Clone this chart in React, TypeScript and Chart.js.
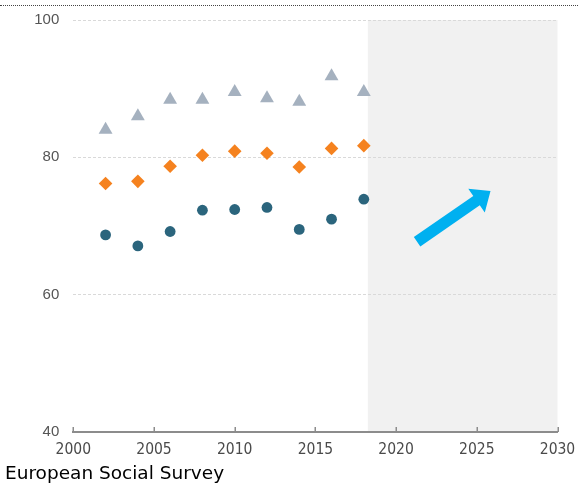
import React, { useEffect, useRef } from 'react';
import { Chart, registerables } from 'chart.js';

Chart.register(...registerables);

const YEARS = [2002, 2004, 2006, 2008, 2010, 2012, 2014, 2016, 2018];
const SERIES_TRIANGLE = [84.0, 86.0, 88.4, 88.4, 89.5, 88.6, 88.1, 91.8, 89.5];
const SERIES_DIAMOND = [76.2, 76.5, 78.7, 80.3, 80.9, 80.6, 78.6, 81.3, 81.7];
const SERIES_CIRCLE = [68.7, 67.1, 69.2, 72.3, 72.4, 72.7, 69.5, 71.0, 73.9];
const X_TICKS = [2000, 2005, 2010, 2015, 2020, 2025, 2030];
const Y_TICKS = [40, 60, 80, 100];
const SHADE_RANGE = [2018.25, 2030];
const ARROW_FROM = [2021.3, 67.7];
const ARROW_TO = [2025.85, 75.1];
const SOURCE = 'European Social Survey';

const AXIS_COLOR = '#8c8c8c';

const toPoints = (vals: number[]) => YEARS.map((yr, i) => ({ x: yr, y: vals[i] }));

const decorPlugin = {
  id: 'decor',
  beforeDraw(chart: any) {
    const { ctx, scales } = chart;
    const x = scales.x, y = scales.y;
    const x0 = x.getPixelForValue(SHADE_RANGE[0]);
    const x1 = x.getPixelForValue(SHADE_RANGE[1]);
    const yTop = y.getPixelForValue(y.max);
    const yBot = y.getPixelForValue(y.min);
    ctx.save();
    ctx.fillStyle = '#f1f1f1';
    ctx.fillRect(x0, yTop, x1 - x0, yBot - yTop);
    ctx.restore();
  },
  afterDraw(chart: any) {
    const { ctx, scales } = chart;
    const x = scales.x, y = scales.y;
    const yBot = y.getPixelForValue(y.min);
    ctx.save();
    ctx.strokeStyle = AXIS_COLOR;
    ctx.lineWidth = 1.5;
    X_TICKS.forEach((v) => {
      const px = Math.round(x.getPixelForValue(v)) + 0.25;
      ctx.beginPath();
      ctx.moveTo(px, yBot);
      ctx.lineTo(px, yBot - 5);
      ctx.stroke();
    });
    // arrow
    const ax = x.getPixelForValue(ARROW_FROM[0]);
    const ay = y.getPixelForValue(ARROW_FROM[1]);
    const bx = x.getPixelForValue(ARROW_TO[0]);
    const by = y.getPixelForValue(ARROW_TO[1]);
    const dx = bx - ax, dy = by - ay;
    const len = Math.hypot(dx, dy);
    const ux = dx / len, uy = dy / len;
    const nx = -uy, ny = ux;
    const headLen = 17, headHalf = 14.5, shaftHalf = 5.7;
    const cx = bx - ux * headLen, cy = by - uy * headLen;
    ctx.fillStyle = '#00b0f0';
    ctx.beginPath();
    ctx.moveTo(ax + nx * shaftHalf, ay + ny * shaftHalf);
    ctx.lineTo(cx + nx * shaftHalf, cy + ny * shaftHalf);
    ctx.lineTo(cx + nx * headHalf, cy + ny * headHalf);
    ctx.lineTo(bx, by);
    ctx.lineTo(cx - nx * headHalf, cy - ny * headHalf);
    ctx.lineTo(cx - nx * shaftHalf, cy - ny * shaftHalf);
    ctx.lineTo(ax - nx * shaftHalf, ay - ny * shaftHalf);
    ctx.closePath();
    ctx.fill();
    ctx.restore();
  },
};

export default function App() {
  const ref = useRef<HTMLCanvasElement | null>(null);

  useEffect(() => {
    if (!ref.current) return;
    const chart = new Chart(ref.current, {
      type: 'scatter',
      data: {
        datasets: [
          {
            label: 'triangle',
            data: toPoints(SERIES_TRIANGLE),
            pointStyle: 'triangle',
            pointRadius: 8,
            pointBackgroundColor: '#a5b1bf',
            pointBorderColor: '#a5b1bf',
            pointBorderWidth: 0,
          },
          {
            label: 'diamond',
            data: toPoints(SERIES_DIAMOND),
            pointStyle: 'rectRot',
            pointRadius: 6.8,
            pointBackgroundColor: '#f5821f',
            pointBorderColor: '#f5821f',
            pointBorderWidth: 0,
          },
          {
            label: 'circle',
            data: toPoints(SERIES_CIRCLE),
            pointStyle: 'circle',
            pointRadius: 5.4,
            pointBackgroundColor: '#2b657d',
            pointBorderColor: '#2b657d',
            pointBorderWidth: 0,
          },
        ],
      },
      options: {
        responsive: false,
        animation: false,
        devicePixelRatio: 1,
        layout: { padding: { left: 5, right: 20.5, top: 20, bottom: 0 } },
        plugins: {
          legend: { display: false },
          tooltip: { enabled: false },
          title: {
            display: true,
            text: SOURCE,
            position: 'bottom',
            align: 'start',
            color: '#000000',
            font: { family: "'DejaVu Sans'", size: 18.5, weight: 'normal' },
            padding: { top: 2, bottom: 1.8 },
          },
        },
        scales: {
          x: {
            type: 'linear',
            min: X_TICKS[0],
            max: X_TICKS[X_TICKS.length - 1],
            afterBuildTicks: (s: any) => {
              s.ticks = X_TICKS.map((v) => ({ value: v }));
            },
            afterFit: (s: any) => {
              s.height = 29;
              s.paddingLeft = 0;
              s.paddingRight = 0;
            },
            ticks: {
              callback: (v: any) => String(v),
              color: '#4a4a4a',
              font: { family: "'DejaVu Sans Condensed', 'DejaVu Sans'", size: 15.5 },
              padding: 9,
              maxRotation: 0,
            },
            grid: { display: true, drawOnChartArea: false, drawTicks: false },
            border: { display: true, color: AXIS_COLOR, width: 2 },
          },
          y: {
            type: 'linear',
            min: Y_TICKS[0],
            max: Y_TICKS[Y_TICKS.length - 1],
            afterBuildTicks: (s: any) => {
              s.ticks = Y_TICKS.map((v) => ({ value: v }));
            },
            afterFit: (s: any) => {
              s.width = 68.3;
              s.paddingTop = 0;
              s.paddingBottom = 0;
            },
            ticks: {
              callback: (v: any) => String(v),
              color: '#555555',
              font: { family: "'Liberation Sans'", size: 15 },
              padding: 14,
            },
            grid: {
              drawTicks: false,
              color: (c: any) => (c.tick && c.tick.value === Y_TICKS[0] ? 'rgba(0,0,0,0)' : '#d9d9d9'),
              lineWidth: 1,
            },
            border: { display: false, dash: [3, 2] },
          },
        },
      },
      plugins: [decorPlugin],
    } as any);
    return () => chart.destroy();
  }, []);

  return (
    <div style={{ position: 'absolute', left: 0, top: 0, width: 578, height: 487, background: '#fff' }}>
      <div
        style={{
          position: 'absolute',
          left: 0,
          top: 5,
          width: 578,
          height: 0,
          borderTop: '1px dotted #444',
        }}
      />
      <canvas ref={ref} width={578} height={487} style={{ position: 'absolute', left: 0, top: 0 }} />
    </div>
  );
}
